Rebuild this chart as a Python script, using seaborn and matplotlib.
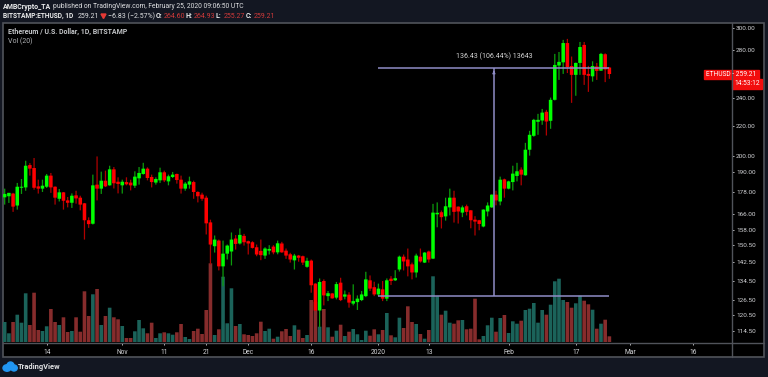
# ethusd_daily_chart.py

import pandas as pd
import matplotlib.pyplot as plt
import seaborn as sns
from matplotlib.patches import Ellipse, Polygon, Rectangle

# --- Datos (ETHUSD diario, 4 oct 2019 - 25 feb 2020) ---
opens = [
    175.2, 175.8, 177.3, 170.7, 180.6, 180.8, 194.1, 192.3, 181.4, 180.1,
    181.2, 187.7, 181.2, 174.4, 178.0, 173.5, 172.2, 176.3, 175.0, 171.9,
    162.9, 161.1, 182.4, 180.1, 184.7, 182.0, 191.5, 184.1, 182.0, 183.9,
    183.6, 181.8, 186.1, 188.7, 191.9, 186.9, 183.6, 184.9, 189.7, 184.3,
    186.9, 188.7, 185.3, 180.1, 182.4, 183.9, 178.2, 176.7, 175.0, 161.8,
    150.0, 152.7, 140.7, 146.5, 147.5, 153.7, 151.3, 155.0, 152.4, 151.9,
    149.5, 147.8, 145.6, 147.9, 149.8, 147.1, 151.3, 147.9, 146.2, 143.4,
    145.6, 145.3, 140.5, 143.3, 133.2, 122.3, 134.3, 128.0, 129.1, 127.4,
    133.6, 127.8, 128.6, 125.0, 125.6, 126.4, 128.0, 134.6, 131.7, 128.7,
    130.8, 127.0, 135.3, 134.6, 139.3, 145.1, 143.8, 141.6, 138.0, 145.1,
    142.4, 147.5, 144.2, 166.0, 167.1, 164.9, 169.7, 175.0, 170.1, 166.9,
    170.3, 168.1, 163.2, 162.9, 159.7, 167.5, 169.7, 176.7, 172.9, 185.5,
    180.1, 183.9, 187.5, 191.3, 187.9, 203.8, 213.0, 222.7, 223.6, 229.9,
    223.4, 238.8, 266.3, 269.0, 286.0, 265.9, 258.5, 268.5, 284.3, 259.3,
    257.3, 265.5, 262.0, 276.0, 264.60,
]
highs = [
    180.1, 177.7, 177.7, 183.4, 185.7, 196.8, 195.3, 198.5, 185.3, 185.3,
    188.7, 189.3, 181.4, 179.9, 178.2, 175.4, 177.4, 178.9, 176.1, 172.1,
    164.4, 188.3, 199.5, 190.1, 190.7, 193.7, 192.9, 186.7, 185.3, 186.7,
    185.3, 190.3, 192.9, 195.5, 192.7, 188.3, 186.7, 192.5, 190.7, 188.3,
    189.9, 188.9, 187.7, 183.9, 187.1, 184.7, 178.6, 177.8, 176.1, 163.2,
    155.2, 153.2, 152.7, 150.8, 156.7, 155.4, 158.7, 156.0, 152.7, 152.4,
    150.8, 153.2, 149.5, 150.5, 150.5, 152.7, 152.1, 148.9, 146.9, 146.4,
    145.9, 145.6, 144.6, 143.8, 133.3, 135.4, 135.0, 130.1, 129.3, 133.9,
    135.7, 130.3, 129.6, 132.9, 128.3, 130.1, 138.3, 136.7, 134.0, 133.2,
    134.3, 135.4, 136.4, 139.0, 145.6, 146.1, 148.9, 142.4, 146.5, 148.9,
    147.2, 147.9, 171.6, 172.4, 168.0, 175.0, 180.1, 178.9, 170.2, 170.7,
    171.2, 168.3, 165.0, 163.1, 168.6, 172.4, 176.8, 178.9, 187.1, 185.9,
    184.7, 193.7, 195.5, 192.7, 208.3, 216.4, 224.8, 228.4, 232.0, 231.3,
    240.5, 276.3, 278.0, 288.9, 289.8, 274.0, 268.8, 287.0, 287.0, 266.0,
    269.9, 268.5, 277.2, 276.8, 264.93,
]
lows = [
    171.2, 172.1, 167.3, 168.5, 177.1, 178.9, 187.7, 179.5, 177.3, 178.2,
    180.5, 177.7, 171.2, 172.9, 168.5, 169.7, 169.4, 171.7, 168.1, 153.2,
    159.0, 160.7, 173.5, 177.1, 181.0, 181.8, 180.2, 177.4, 177.3, 182.0,
    179.1, 180.5, 182.4, 188.3, 184.9, 180.8, 182.4, 183.4, 183.9, 182.0,
    186.3, 183.0, 177.3, 178.9, 180.1, 174.4, 172.4, 173.3, 155.7, 141.6,
    147.0, 138.9, 132.1, 143.8, 141.1, 148.4, 150.8, 150.3, 146.1, 148.9,
    145.3, 143.5, 144.1, 146.1, 146.2, 146.2, 146.9, 144.1, 142.4, 139.3,
    142.8, 141.3, 140.1, 129.4, 122.2, 116.0, 124.3, 126.0, 127.0, 126.7,
    126.0, 126.7, 123.4, 124.3, 122.5, 126.0, 127.6, 130.1, 128.0, 128.0,
    126.0, 126.0, 132.6, 134.3, 138.4, 138.9, 136.3, 135.0, 135.8, 142.4,
    142.2, 142.4, 144.0, 159.3, 158.7, 162.7, 165.4, 161.7, 161.2, 164.5,
    165.4, 158.8, 155.2, 157.8, 159.3, 164.9, 169.4, 170.8, 170.8, 175.0,
    179.7, 179.1, 184.3, 182.0, 187.7, 200.0, 212.4, 213.7, 220.6, 213.2,
    217.8, 238.3, 254.4, 259.3, 260.0, 236.5, 241.9, 258.5, 250.4, 244.9,
    253.0, 254.4, 261.8, 252.6, 255.27,
]
closes = [
    177.1, 177.7, 170.1, 181.2, 181.2, 193.7, 191.9, 180.6, 180.1, 181.8,
    187.7, 180.8, 175.0, 178.0, 173.3, 172.2, 176.1, 174.6, 171.2, 162.9,
    160.9, 182.0, 180.1, 184.7, 181.4, 191.5, 183.2, 182.8, 184.1, 182.6,
    182.0, 187.1, 189.3, 191.9, 186.3, 183.9, 185.7, 189.7, 184.9, 187.3,
    188.3, 185.1, 180.1, 183.0, 184.3, 178.2, 175.8, 174.4, 161.3, 150.8,
    153.2, 140.7, 146.5, 150.3, 153.2, 151.1, 155.5, 151.9, 151.3, 149.2,
    146.1, 145.8, 148.9, 148.7, 147.1, 151.4, 147.1, 145.6, 143.8, 145.6,
    144.6, 142.4, 143.2, 132.5, 122.3, 133.9, 128.3, 129.2, 127.1, 133.0,
    126.4, 128.7, 125.4, 126.0, 127.0, 128.7, 135.0, 131.1, 128.7, 131.1,
    127.0, 134.6, 134.3, 135.5, 145.1, 142.9, 140.7, 138.0, 145.6, 142.9,
    147.0, 143.8, 166.9, 166.8, 164.5, 170.3, 175.0, 167.3, 167.5, 169.7,
    167.3, 162.9, 162.2, 161.0, 168.5, 170.7, 176.7, 173.5, 185.3, 180.1,
    184.3, 188.9, 190.3, 188.3, 203.8, 213.7, 224.1, 224.1, 229.3, 222.9,
    238.8, 266.8, 269.4, 286.0, 265.0, 258.5, 268.5, 282.4, 258.5, 257.7,
    265.9, 261.8, 276.3, 263.0, 259.21,
]
# volumen en miles, estimado a ojo (sin escala en el grafico)
volumes = [
    20, 8.7, 20, 27.3, 19.3, 48.7, 17, 49.3, 12, 11,
    15.7, 33, 20, 17, 24.7, 10, 11, 24.7, 10.3, 50.7,
    26, 47.7, 53, 17, 26, 34.3, 24.7, 22.7, 16, 4,
    4, 10.7, 22, 13.7, 8.7, 19.3, 4, 8.7, 9.7, 8.7,
    7.3, 9.7, 18, 5, 3, 11, 13.3, 8, 32, 78.7,
    7, 12.7, 65.3, 18.7, 53.7, 16, 18, 7.7, 7, 6,
    8.7, 20.3, 11, 13.3, 3.3, 5.3, 10.7, 13, 6, 16.7,
    12.3, 4, 7, 42, 40.3, 15.3, 33, 14.7, 5.3, 11.3,
    17.3, 6, 10.3, 13, 7.7, 2, 11.3, 6.3, 12.7, 7.7,
    12, 29, 6.7, 4.7, 24.3, 14, 35.7, 20, 18, 8,
    3.3, 12, 65.7, 45.7, 27.3, 31.3, 19.3, 18.3, 21.7, 22,
    12.7, 13.3, 43.3, 2.7, 6, 16.7, 24.3, 10.3, 24, 27,
    9, 20.7, 18.3, 21.3, 32, 33.3, 39, 19.3, 32, 27.3,
    37.3, 60.7, 63.3, 42, 40, 34.3, 38.7, 46.3, 41.3, 37.7,
    32.3, 13.3, 18.3, 22.3, 5.7,
]

price_ticks = [300, 280, 240, 220, 200, 190, 178, 166, 158, 150.5, 142.5, 134.5, 126.5, 120.5, 114.5]
date_ticks = [10, 28, 38, 48, 58, 73, 89, 101, 120, 136, 149, 164]
date_labels = ["14", "Nov", "11", "21", "Dec", "16", "2020", "13", "Feb", "17", "Mar", "16"]

measure_high = 264.53
measure_low = 128.10
measure_start = 88.9
measure_end = 144
measure_day = 116.5

# --- Armar tabla ---
df = pd.DataFrame({"open": opens, "high": highs, "low": lows, "close": closes, "volume": volumes})
df["day"] = df.index
df["up"] = df["close"] >= df["open"]
df["body_low"] = df[["open", "close"]].min(axis=1)
df["body_size"] = (df["open"] - df["close"]).abs()
df["range"] = df["high"] - df["low"]

# --- Estilo ---
navy = "#131722"
frame = "#50535a"
light = "#d6d7da"
sns.set_theme(style="dark")
plt.rcParams["font.family"] = ["Roboto", "DejaVu Sans"]

W, H = 768, 377
fig = plt.figure(figsize=(W / 100, H / 100), dpi=100, facecolor=navy)
fig.patches.append(Rectangle((3 / W, 1 - 357 / H), 761 / W, 334 / H, transform=fig.transFigure,
                             facecolor="black", edgecolor=frame, linewidth=1.2, zorder=-1))

ax = fig.add_axes([3 / W, 1 - 343 / H, 729 / W, 320 / H])
ax_vol = ax.twinx()
ax.set_zorder(ax_vol.get_zorder() + 1)
ax.patch.set_visible(False)
ax_vol.patch.set_visible(False)

# --- Volumen ---
sns.barplot(data=df, x="day", y="volume", hue="up", palette={True: "#1b635a", False: "#862c2c"},
            dodge=False, native_scale=True, width=0.86, saturation=1, errorbar=None,
            legend=False, linewidth=0, snap=False, ax=ax_vol)

# --- Velas: mecha y cuerpo por direccion ---
for is_up, wick_color, body_color in [(True, "#0c9c0c", "#00ff00"), (False, "#b00000", "#ff0000")]:
    part = df[df["up"] == is_up]
    sns.barplot(data=part, x="day", y="range", bottom=part["low"].values, color=wick_color,
                native_scale=True, width=0.3, saturation=1, errorbar=None, linewidth=0,
                snap=False, ax=ax)
    sns.barplot(data=part, x="day", y="body_size", bottom=part["body_low"].values, color=body_color,
                native_scale=True, width=0.84, saturation=1, errorbar=None, linewidth=0,
                snap=False, ax=ax)

# --- Ejes ---
ax.set_yscale("log")
ax.set_ylim(110.3, 304.8)
ax.set_xlim(-0.4, 173.2)
ax_vol.set_ylim(-1, 319)
ax_vol.set_yticks([])
ax_vol.set_xlabel("")
ax_vol.set_ylabel("")
ax.set_xlabel("")
ax.set_ylabel("")
ax.grid(False)
ax_vol.grid(False)
for side in ax.spines:
    ax.spines[side].set_visible(False)
    ax_vol.spines[side].set_visible(False)

ax.yaxis.tick_right()
ax.minorticks_off()
ax.set_yticks(price_ticks)
ax.set_yticklabels([f"{p:.2f}" for p in price_ticks])
ax.tick_params(axis="y", which="minor", length=0, labelright=False)
ax.tick_params(axis="y", colors=light, labelsize=4.6, length=1.5, width=0.6, pad=1.5, right=True)
ax.set_xticks(date_ticks)
ax.set_xticklabels(date_labels)
ax.tick_params(axis="x", colors=light, labelsize=4.8, length=1.5, width=0.6, pad=2.5, bottom=True)

# --- Herramienta de medicion ---
measure_color = "#8f8cc6"
ax.hlines([measure_high, measure_low], measure_start, measure_end, color=measure_color, linewidth=1.1, zorder=5)
ax.vlines(measure_day, measure_low, measure_high, color=measure_color, linewidth=1.1, zorder=5)
ax.annotate("", (measure_day, measure_high), xytext=(measure_day, measure_high * 0.975),
            arrowprops=dict(arrowstyle="-|>", color=measure_color, lw=0.8, mutation_scale=4), zorder=6)
ax.text(measure_day, measure_high * 1.037, "136.43 (106.44%) 13643", color="#d6d6d6",
        fontsize=5.0, ha="center", va="center", zorder=6)

# --- Marco y textos en pixeles ---
ov = fig.add_axes([0, 0, 1, 1], zorder=10)
ov.set_xlim(0, W)
ov.set_ylim(H, 0)
ov.axis("off")
ov.patch.set_visible(False)
ov.plot([732, 732], [23, 357], color=frame, linewidth=1.0)
ov.plot([3, 764], [343, 343], color=frame, linewidth=1.0)


def label(x, y, text, color="#eceded", size=5.0, weight="normal", **kws):
    ov.text(x, y, text, color=color, fontsize=size, fontweight=weight, va="center", **kws)


red = "#d23a3a"
label(3, 7, "AMBCrypto_TA", weight="bold")
label(53, 7, "published on TradingView.com, February 25, 2020 09:06:50 UTC", color="#e0e1e3", size=4.9)
label(3, 16, "BITSTAMP:ETHUSD, 1D", weight="bold", size=4.8)
label(78, 16, "259.21", color="#e0e1e3")
ov.add_patch(Polygon([(101, 14), (106, 14), (103.5, 18.5)], closed=True, color="#e53935"))
label(108, 16, "\u22126.83 (\u22122.57%)", color="#e0e1e3")
for x, name, value in [(156, "O:", "264.60"), (186, "H:", "264.93"), (216, "L:", "255.27"), (246, "C:", "259.21")]:
    label(x, 16, name, weight="bold")
    label(x + 8, 16, value, color=red)

label(8, 32, "Ethereum / U.S. Dollar, 1D, BITSTAMP", color="#c4c6c9", weight="bold", size=5.0)
label(8, 41, "Vol (20)", color="#b0b2b5", size=5.0)

# etiqueta de precio actual
ov.add_patch(Rectangle((704, 69.5), 55, 9.5, color="#f20d0d"))
ov.add_patch(Rectangle((732, 79), 30, 9.5, color="#f20d0d"))
label(731.5, 74.2, "ETHUSD - 259.21", color="white", size=4.8, ha="center")
label(747, 83.8, "14:53:12", color="white", size=4.8, ha="center")

# logo TradingView
for cx, cy, w, h in [(7, 368, 8, 6.5), (10.5, 365.5, 7, 7), (14, 368, 6.5, 6)]:
    ov.add_patch(Ellipse((cx, cy), w, h, color="#2196f3"))
label(18, 367, "TradingView", color="#e0e1e3", size=5.4, weight="bold")

# --- Guardar grafico ---
plt.savefig("out.png", dpi=100, facecolor=navy)
